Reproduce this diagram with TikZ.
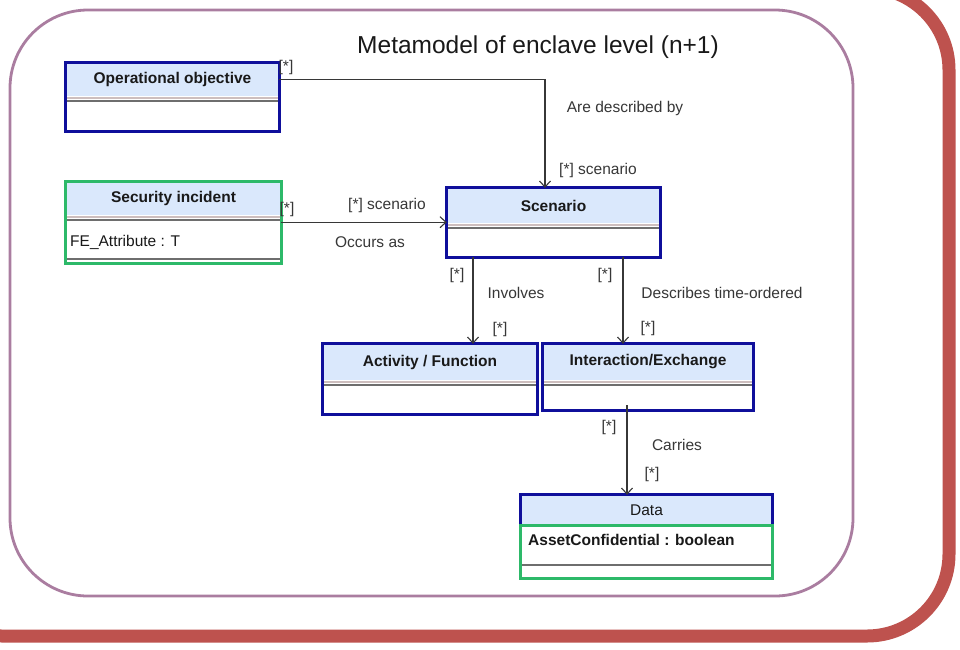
\documentclass[tikz,border=0pt]{standalone}
\usepackage{fontspec}
\setmainfont{Liberation Sans}
\usetikzlibrary{arrows.meta,calc}

\definecolor{framered}{RGB}{190,82,78}
\definecolor{framemauve}{RGB}{170,125,160}
\definecolor{classblue}{RGB}{15,15,155}
\definecolor{classgreen}{RGB}{45,185,105}
\definecolor{headfill}{RGB}{218,232,252}
\definecolor{sepgray}{RGB}{110,110,110}
\definecolor{seplight}{RGB}{205,190,190}
\definecolor{labelgray}{RGB}{55,55,55}
\definecolor{namecol}{RGB}{25,25,25}

\newcommand\lblfont{\fontsize{15.5pt}{18pt}\selectfont}
\newcommand\ttlfont{\fontsize{24.5pt}{28pt}\selectfont}

\begin{document}
\begin{tikzpicture}[x=1pt,y=-1pt,
  header/.style={rectangle, fill=headfill, inner sep=0pt, text=namecol,
                 font=\lblfont\bfseries},
  compart/.style={rectangle, inner sep=0pt},
  blueborder/.style={draw=classblue, line width=2.8pt},
  greenborder/.style={draw=classgreen, line width=2.8pt},
  sepA/.style={draw=seplight, line width=2pt},
  sepB/.style={draw=sepgray, line width=2pt},
  conn/.style={draw=labelgray, line width=1.1pt,
               -{Straight Barb[length=6pt,width=11pt,line width=1.1pt]}},
  lbl/.style={text=labelgray, font=\lblfont, inner sep=0pt},
  attr/.style={text=namecol, font=\lblfont, inner sep=0pt, anchor=west}]

\useasboundingbox (0,0) rectangle (960,649);
\fill[white] (0,0) rectangle (960,649);
\clip (0,0) rectangle (960,649);

% outer frames
\draw[framered, line width=13pt, rounded corners=82pt] (-80,-12) rectangle (949,636);
\draw[framemauve, line width=2.8pt, rounded corners=78pt] (10,10) rectangle (853,596);

% title
\node[text=namecol, font=\ttlfont, inner sep=0pt] (title) at (538,47) {Metamodel of enclave level (n+1)};

% ---- Operational objective
\node[header, minimum width=213pt, minimum height=33pt] (oo) at (172.5,79.5) {Operational objective};
\node[compart, minimum width=213pt, minimum height=35pt] (oob) at (172.5,113.5) {};
\draw[sepA] (66,97.5) -- (279,97.5);
\draw[sepB] (66,101) -- (279,101);
\draw[blueborder] (oo.north west) rectangle (oob.south east);

% ---- Security incident
\node[header, minimum width=215pt, minimum height=33pt] (si) at (173.5,198.5) {Security incident};
\node[compart, minimum width=215pt, minimum height=48pt] (sib) at (173.5,239) {};
\draw[sepA] (66,216.5) -- (281,216.5);
\draw[sepB] (66,220) -- (281,220);
\node[attr] (siattr) at (70,242) {FE\_Attribute : T};
\draw[sepB] (66,259) -- (281,259);
\draw[greenborder] (si.north west) rectangle (sib.south east);

% ---- Scenario
\node[header, minimum width=213pt, minimum height=35pt] (sc) at (553.5,205.5) {Scenario};
\node[compart, minimum width=213pt, minimum height=34pt] (scb) at (553.5,240) {};
\draw[sepA] (447,224.5) -- (660,224.5);
\draw[sepB] (447,228) -- (660,228);
\draw[blueborder] (sc.north west) rectangle (scb.south east);

% ---- Activity / Function
\node[header, minimum width=214pt, minimum height=36pt] (act) at (430,362) {Activity / Function};
\node[compart, minimum width=214pt, minimum height=34pt] (actb) at (430,397) {};
\draw[sepA] (323,381.5) -- (537,381.5);
\draw[sepB] (323,385) -- (537,385);
\draw[blueborder] (act.north west) rectangle (actb.south east);

% ---- Interaction/Exchange
\node[header, minimum width=210pt, minimum height=36pt] (int) at (648,362) {Interaction/Exchange};
\node[compart, minimum width=210pt, minimum height=30pt] (intb) at (648,395) {};
\draw[sepA] (543,381.5) -- (753,381.5);
\draw[sepB] (543,385) -- (753,385);
\draw[blueborder] (int.north west) rectangle (intb.south east);

% ---- Data
\node[header, font=\lblfont, minimum width=251pt, minimum height=30pt] (data) at (646.5,510) {Data};
\draw[blueborder] (data.north west) rectangle (data.south east);
\node[compart, minimum width=251pt, minimum height=52pt] (datab) at (646.5,552) {};
\node[attr, font=\lblfont\bfseries] (dattr) at (528,540) {AssetConfidential : boolean};
\draw[sepB] (521,565) -- (772,565);
\draw[greenborder] (datab.north west) rectangle (datab.south east);

% ---- associations
\draw[conn] (oo.east) -| ([xshift=-8.5pt]sc.north);
\node[lbl] (l1a) at (286,67) {[*]};
\node[lbl] (l1b) at (625,108) {Are described by};
\node[lbl] (l1c) at (598,170) {[*] scenario};

\draw[conn] ([yshift=-7pt]si.south east) -- ([yshift=1pt]sc.south west);
\node[lbl] (l2a) at (287,209) {[*]};
\node[lbl] (l2b) at (387,205) {[*] scenario};
\node[lbl] (l2c) at (370,242) {Occurs as};

\draw[conn] ([xshift=-80.5pt]scb.south) -- ([xshift=-80.5pt]scb.south |- act.north);
\node[lbl] (l3a) at (457,275) {[*]};
\node[lbl] (l3b) at (516,293) {Involves};
\node[lbl] (l3c) at (500,329) {[*]};

\draw[conn] ([xshift=69.5pt]scb.south) -- ([xshift=69.5pt]scb.south |- int.north);
\node[lbl] (l4a) at (605,275) {[*]};
\node[lbl] (l4b) at (722,293) {Describes time-ordered};
\node[lbl] (l4c) at (648,328) {[*]};

\draw[conn] ([xshift=-21pt,yshift=5pt]intb.south) -- ([xshift=-21pt]intb.south |- data.north);
\node[lbl] (l5a) at (609,427) {[*]};
\node[lbl] (l5b) at (677,445) {Carries};
\node[lbl] (l5c) at (652,474) {[*]};

\end{tikzpicture}
\end{document}
